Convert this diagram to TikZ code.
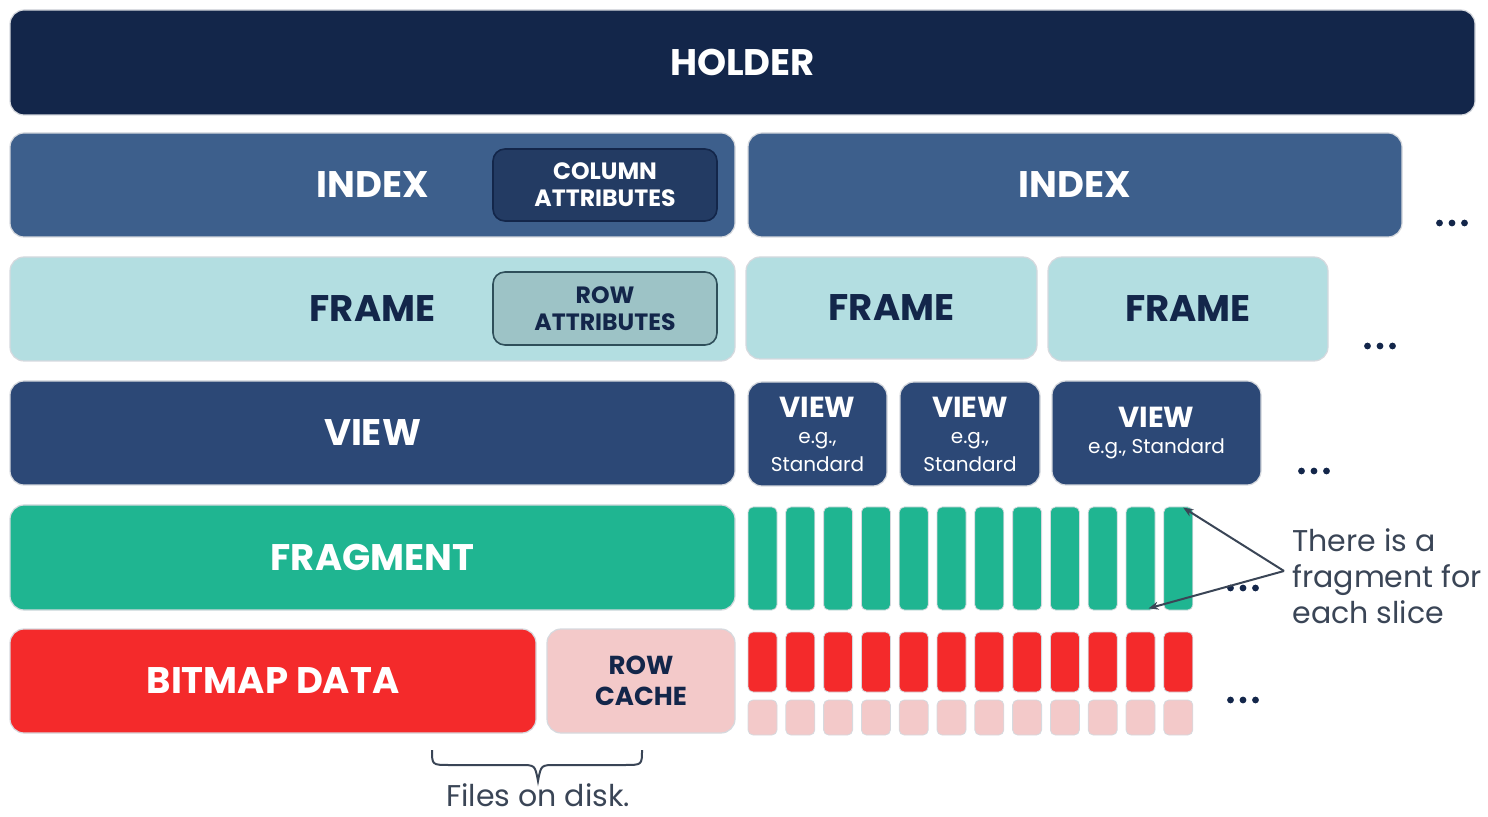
\documentclass[tikz,border=0pt]{standalone}
\usepackage{fontspec}
\setmainfont{Poppins}
\usetikzlibrary{arrows.meta}
\definecolor{cholder}{HTML}{13264A}
\definecolor{cindex}{HTML}{3D5F8C}
\definecolor{ccol}{HTML}{233B63}
\definecolor{cframe}{HTML}{B3DEE1}
\definecolor{crowattr}{HTML}{9DC3C6}
\definecolor{crowborder}{HTML}{2F4F5A}
\definecolor{cview}{HTML}{2C4876}
\definecolor{cfrag}{HTML}{1FB591}
\definecolor{cbitmap}{HTML}{F42A2B}
\definecolor{ccache}{HTML}{F3C9C9}
\definecolor{cnote}{HTML}{3A4556}
\definecolor{cedge}{HTML}{D6D9DE}
\tikzset{
  blk/.style={draw=cedge, line width=0.6pt, rounded corners=7pt, inner sep=0pt, align=center, font=\bfseries\fontsize{18.5}{20}\selectfont},
  darkblk/.style={blk, text=white},
  lightblk/.style={blk, text=cholder},
  sub/.style={rounded corners=6pt, inner sep=0pt, align=center, line width=0.8pt, font=\bfseries\fontsize{11.8}{13.5}\selectfont},
  slice/.style={rounded corners=2.5pt, draw=cedge, line width=0.4pt, inner sep=0pt},
  dot/.style={circle, fill=cholder, inner sep=0pt, minimum size=3.4pt},
  note/.style={text=cnote, font=\fontsize{15}{18}\selectfont, inner sep=0pt},
  pointer/.style={draw=cnote, line width=1pt, -{Stealth[length=5pt,width=4pt]}},
  smallview/.style={darkblk, fill=cview, minimum height=52pt, font=\bfseries\fontsize{14.5}{14}\selectfont}
}
\newcommand{\threedots}[3]{%
  \node[dot] (#3a) at (#1-12.5,#2) {};
  \node[dot] (#3b) at (#1,#2) {};
  \node[dot] (#3c) at (#1+12.5,#2) {};}
\newcommand{\egtext}[1]{{\fontsize{10}{11.5}\mdseries\selectfont #1}}
\begin{document}
\begin{tikzpicture}[x=0.5pt,y=-0.5pt]
\useasboundingbox (0,0) rectangle (1488,817);
% HOLDER
\node[darkblk, fill=cholder, minimum width=732.5pt, minimum height=52.5pt] (holder) at (742.5,62.5) {HOLDER};
% INDEX row
\node[darkblk, fill=cindex, minimum width=362.5pt, minimum height=52pt] (indexL) at (372.5,185) {INDEX};
\node[sub, fill=ccol, draw=cholder, text=white, minimum width=112pt, minimum height=36pt] (colattr) at (605,185) {COLUMN\\ATTRIBUTES};
\node[darkblk, fill=cindex, minimum width=327pt, minimum height=52pt] (indexR) at (1075,185) {INDEX};
\threedots{1452}{223}{d1}
% FRAME row
\node[lightblk, fill=cframe, minimum width=362.5pt, minimum height=52pt] (frameL) at (372.5,309) {FRAME};
\node[sub, fill=crowattr, draw=crowborder, text=cholder, minimum width=112pt, minimum height=36.5pt] (rowattr) at (605,308.5) {ROW\\ATTRIBUTES};
\node[lightblk, fill=cframe, minimum width=145.5pt, minimum height=51pt] (frame2) at (891.5,308) {FRAME};
\node[lightblk, fill=cframe, minimum width=140pt, minimum height=52pt] (frame3) at (1188,309) {FRAME};
\threedots{1380}{346}{d2}
% VIEW row
\node[darkblk, fill=cview, minimum width=362.5pt, minimum height=52pt] (viewL) at (372.5,433) {VIEW};
\node[smallview, minimum width=69.5pt] (view1) at (817.5,434) {VIEW\\[-1pt]\egtext{e.g.,}\\\egtext{Standard}};
\node[smallview, minimum width=70pt] (view2) at (970,434) {VIEW\\[-1pt]\egtext{e.g.,}\\\egtext{Standard}};
\node[smallview, minimum width=104.5pt] (view3) at (1156.5,433) {VIEW\\[-1pt]\egtext{e.g., Standard}};
\threedots{1314}{471}{d3}
% FRAGMENT row
\node[darkblk, fill=cfrag, minimum width=362.5pt, minimum height=52.5pt] (frag) at (372.5,557.5) {FRAGMENT};
\foreach \i in {0,...,11} {
  \node[slice, fill=cfrag, minimum width=14.5pt, minimum height=51.5pt] (s\i) at (762.5+\i*37.8,558.5) {};
}
\threedots{1243}{588}{d4}
% BITMAP row
\node[darkblk, fill=cbitmap, minimum width=263pt, minimum height=52pt] (bitmap) at (273,681) {BITMAP DATA};
\node[lightblk, fill=ccache, minimum width=94pt, minimum height=52pt, font=\bfseries\fontsize{13}{15.5}\selectfont] (cache) at (641,681) {ROW\\CACHE};
\foreach \i in {0,...,11} {
  \node[slice, fill=cbitmap, minimum width=14.5pt, minimum height=30pt] (r\i) at (762.5+\i*37.8,662) {};
  \node[slice, fill=ccache, minimum width=14.5pt, minimum height=17.5pt] (p\i) at (762.5+\i*37.8,717.5) {};
}
\threedots{1243}{700}{d5}
% brace
\coordinate (bl) at (432,750);
\coordinate (br) at (642,750);
\coordinate (btip) at (538,781);
\draw[cnote, line width=1pt] (bl) .. controls (432,765) .. (450,765) -- (520,765) .. controls (535,765) .. (btip) .. controls (541,765) .. (556,765) -- (624,765) .. controls (642,765) .. (br);
\node[note, anchor=base] (disk) at (538,806) {Files on disk.};
% annotation
\node[note, align=left, anchor=west] (ann) at (1292,576) {There is a\\fragment for\\each slice};
\coordinate (apex) at (1284,571);
\draw[pointer] (apex) -- ([xshift=-5pt,yshift=-0.5pt]s11.north east);
\draw[pointer] (apex) -- ([xshift=4pt,yshift=1pt]s10.south);
\end{tikzpicture}
\end{document}
